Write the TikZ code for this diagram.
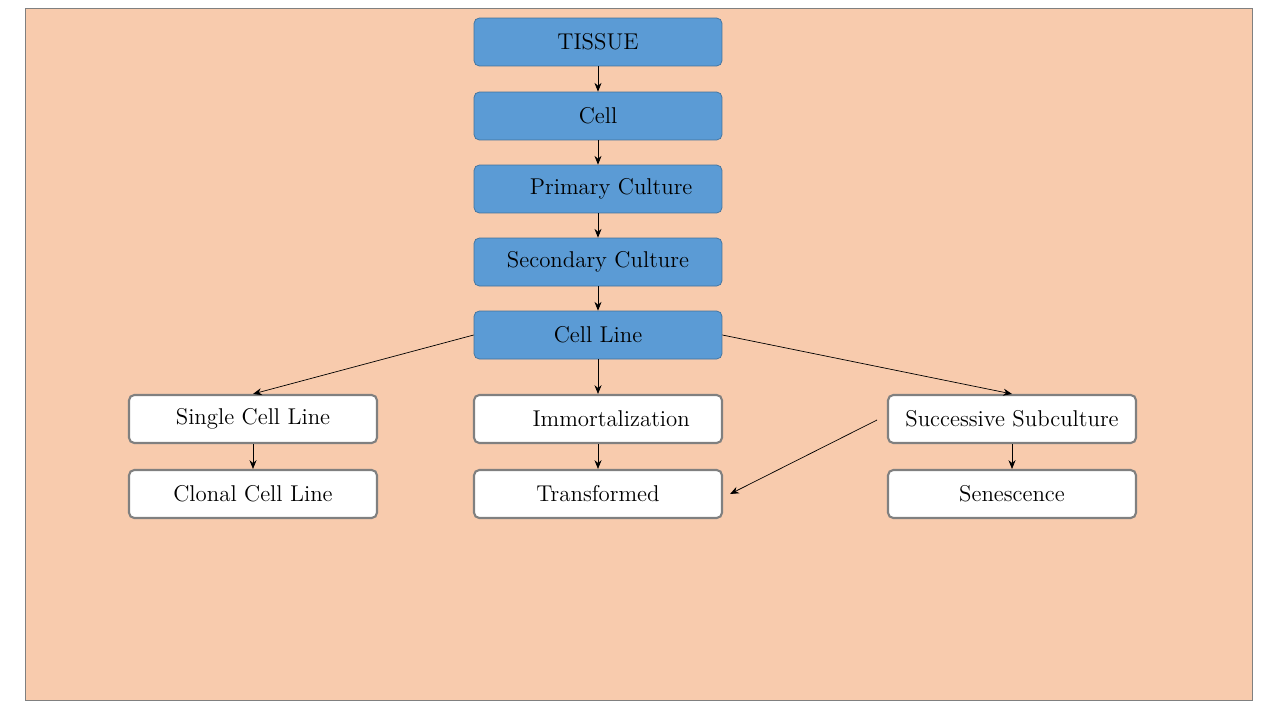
\documentclass[tikz,border=0pt]{standalone}
\usepackage{tikz}
\usetikzlibrary{arrows.meta}
\definecolor{peach}{RGB}{248,203,173}
\definecolor{boxblue}{RGB}{91,155,213}
\definecolor{blueline}{RGB}{65,113,156}
\tikzset{
  stage/.style={draw=blueline,fill=boxblue,rounded corners=3pt,minimum width=4.96cm,minimum height=0.96cm,font=\fontsize{13}{15}\selectfont},
  result/.style={draw=gray,line width=1.2pt,fill=white,rounded corners=3pt,minimum width=4.96cm,minimum height=0.96cm,font=\fontsize{13}{15}\selectfont},
  flow/.style={-{Stealth[length=5pt,width=4pt]},thin}
}
\begin{document}
\begin{tikzpicture}[x=0.02cm,y=-0.02cm]
\useasboundingbox (0,0) rectangle (1280,720);
\fill[white] (0,0) rectangle (1280,720);
\filldraw[draw=gray,fill=peach] (25,8) rectangle (1252,700); % slide
% main chain
\node[stage] (tissue) at (598,42) {TISSUE};
\node[stage] (cell) at (598,116) {Cell};
\node[stage] (primary) at (598,189) {\hspace{15pt}Primary Culture};
\node[stage] (secondary) at (598,262) {Secondary Culture};
\node[stage] (cellline) at (598,335) {Cell Line};
% branches
\node[result] (single) at (253,419) {Single Cell Line};
\node[result] (immortal) at (598,419) {\hspace{15pt}Immortalization};
\node[result] (subculture) at (1012,419) {Successive Subculture};
\node[result] (clonal) at (253,494) {Clonal Cell Line};
\node[result] (transformed) at (598,494) {Transformed};
\node[result] (senescence) at (1012,494) {Senescence};
\coordinate (fromsub) at (877,420);
\draw[flow] (tissue) -- (cell);
\draw[flow] (cell) -- (primary);
\draw[flow] (primary) -- (secondary);
\draw[flow] (secondary) -- (cellline);
\draw[flow] (cellline) -- (immortal);
\draw[flow] (cellline.west) -- (single.north);
\draw[flow] (cellline.east) -- (subculture.north);
\draw[flow] (single) -- (clonal);
\draw[flow] (immortal) -- (transformed);
\draw[flow] (subculture) -- (senescence);
\draw[flow] (fromsub) -- ([xshift=4pt]transformed.east);
\end{tikzpicture}
\end{document}
